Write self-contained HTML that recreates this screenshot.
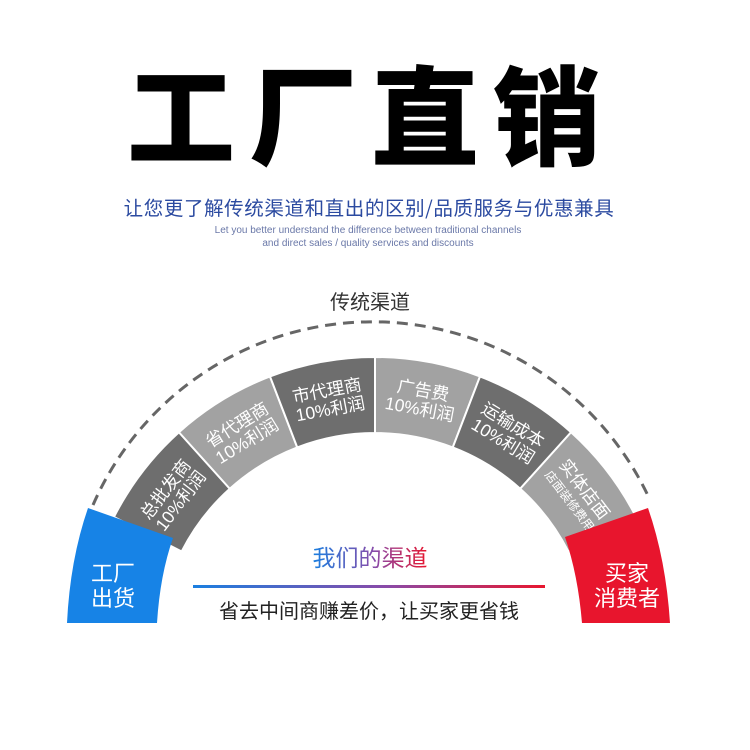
<!DOCTYPE html>
<html><head><meta charset="utf-8"><style>
html,body{margin:0;padding:0;background:#fff;width:750px;height:750px;overflow:hidden}
svg text{font-family:"Liberation Sans","Noto Sans CJK SC",sans-serif}
</style></head><body>
<svg width="750" height="750" viewBox="0 0 750 750" xmlns="http://www.w3.org/2000/svg">
<defs>
<linearGradient id="g" x1="0" x2="1" y1="0" y2="0"><stop offset="0" stop-color="#1a7fe0"/><stop offset="0.55" stop-color="#8a4aa8"/><stop offset="1" stop-color="#e8162e"/></linearGradient>
</defs>
<text x="371" y="157" text-anchor="middle" font-size="108" font-weight="900" fill="#000" letter-spacing="14" style='font-family:"Noto Sans CJK SC",sans-serif'>工厂直销</text>
<text x="369" y="215" text-anchor="middle" font-size="19.5" letter-spacing="0.6" fill="#2b4aa0" style='font-family:"Noto Sans CJK SC",sans-serif'>让您更了解传统渠道和直出的区别/品质服务与优惠兼具</text>
<text x="368" y="233" text-anchor="middle" font-size="10" fill="#6a78a8">Let you better understand the difference between traditional channels</text>
<text x="368" y="246" text-anchor="middle" font-size="10" fill="#6a78a8">and direct sales / quality services and discounts</text>
<text x="370" y="309" text-anchor="middle" font-size="20" fill="#333" style='font-family:"Noto Sans CJK SC",sans-serif'>传统渠道</text>
<path d="M93,505 A305,305 0 0 1 650,500" fill="none" stroke="#666" stroke-width="3" stroke-dasharray="11,7"/>
<g id="ring"></g>
<path d="M88,508 Q70,560 67,623 L157,623 Q160,575 173,538 Z" fill="#1783e6"/>
<path d="M648,508 Q666,560 670,623 L582,623 Q578,575 565,537 Z" fill="#e8152d"/>
<text x="113" y="581" text-anchor="middle" font-size="22" fill="#fff" style='font-family:"Noto Sans CJK SC",sans-serif'>工厂</text>
<text x="113" y="606" text-anchor="middle" font-size="22" fill="#fff" style='font-family:"Noto Sans CJK SC",sans-serif'>出货</text>
<text x="627" y="581" text-anchor="middle" font-size="22" fill="#fff" style='font-family:"Noto Sans CJK SC",sans-serif'>买家</text>
<text x="627" y="606" text-anchor="middle" font-size="22" fill="#fff" style='font-family:"Noto Sans CJK SC",sans-serif'>消费者</text>
<text x="370" y="566" text-anchor="middle" font-size="23" fill="url(#g)" style='font-family:"Noto Sans CJK SC",sans-serif'>我们的渠道</text>
<rect x="193" y="585" width="352" height="3" fill="url(#g)"/>
<text x="369" y="618" text-anchor="middle" font-size="20" fill="#222" style='font-family:"Noto Sans CJK SC",sans-serif'>省去中间商赚差价，让买家更省钱</text>
</svg>
<script>
(function(){
var g=document.getElementById('ring'),cx=375,cy=650,R=293,r=217,ns='http://www.w3.org/2000/svg';
var labels=[["总批发商","10%利润"],["省代理商","10%利润"],["市代理商","10%利润"],["广告费","10%利润"],["运输成本","10%利润"],["实体店面","店面装修费用"]];
function P(rad,a){a=a*Math.PI/180;return [cx-rad*Math.cos(a),cy-rad*Math.sin(a)];}
for(var i=0;i<6;i++){
 var a0=27+21*i,a1=a0+21;
 var p1=P(R,a0),p2=P(R,a1),p3=P(r,a1),p4=P(r,a0);
 var d='M'+p1+' A'+R+','+R+' 0 0 1 '+p2+' L'+p3+' A'+r+','+r+' 0 0 0 '+p4+' Z';
 var pa=document.createElementNS(ns,'path');pa.setAttribute('d',d);
 pa.setAttribute('fill',i%2?'#a2a2a2':'#6e6e6e');pa.setAttribute('stroke','#fff');pa.setAttribute('stroke-width','2');
 g.appendChild(pa);
 var am=a0+10.5,c=P(255,am);
 var t=document.createElementNS(ns,'g');
 t.setAttribute('transform','translate('+c[0]+','+c[1]+') rotate('+(am-90)+')');
 var sizes=[17.5,i==5?12:17.5];
 [[-3,0],[16,1]].forEach(function(o){
  var tx=document.createElementNS(ns,'text');tx.setAttribute('x',0);tx.setAttribute('y',o[0]+(o[1]&&i==5?-2:0));
  tx.setAttribute('text-anchor','middle');tx.setAttribute('font-size',sizes[o[1]]);tx.setAttribute('fill','#fff');
  tx.textContent=labels[i][o[1]];t.appendChild(tx);
 });
 g.appendChild(t);
}
})();
</script>
</body></html>
